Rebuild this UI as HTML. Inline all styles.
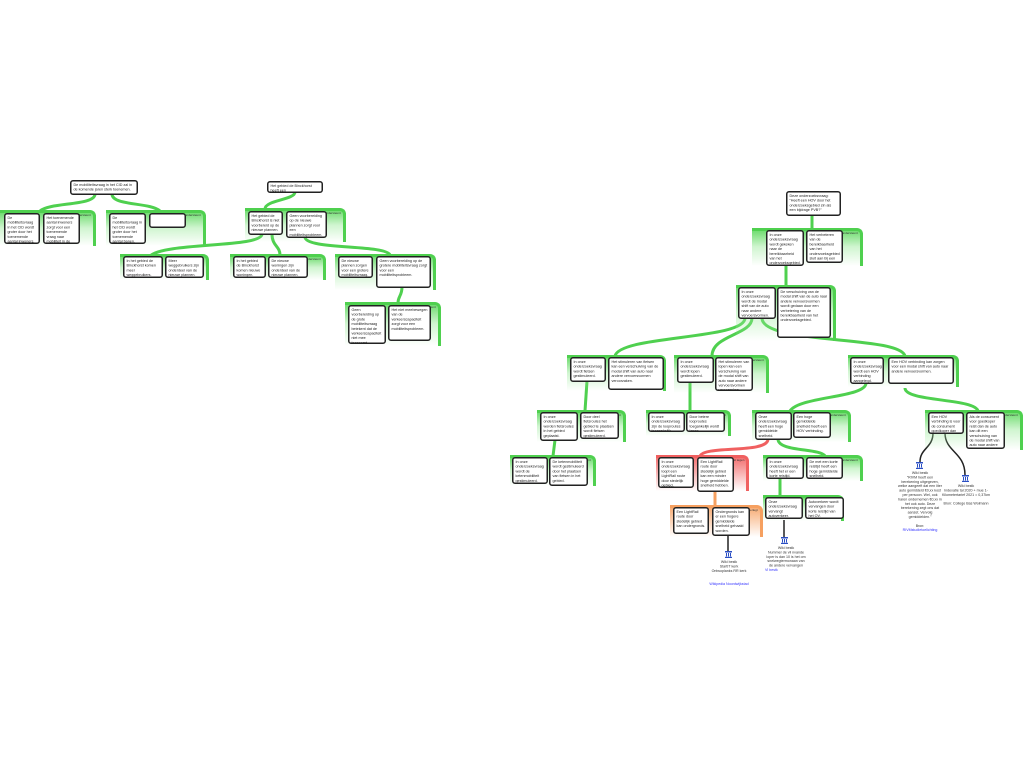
<!DOCTYPE html>
<html><head><meta charset="utf-8">
<style>
html,body{margin:0;padding:0;background:#fff;width:1024px;height:768px;overflow:hidden;position:relative;font-family:"Liberation Sans",sans-serif;}
.p{position:absolute;border-top:3px solid #4fd04f;border-right:3px solid #4fd04f;border-top-right-radius:6px;background:linear-gradient(to bottom,rgba(90,215,90,0.85) 0%,rgba(160,235,160,0.5) 45%,rgba(255,255,255,0) 100%);box-sizing:border-box;}
.p.r{border-color:#f06060;background:linear-gradient(to bottom,rgba(240,90,90,0.85),rgba(255,255,255,0) 100%);}
.p.o{border-color:#f6a060;background:linear-gradient(to bottom,rgba(246,160,96,0.85),rgba(255,255,255,0) 100%);}
.l{position:absolute;right:2px;top:1px;font-size:6px;line-height:6px;color:#333;transform:scale(.5);transform-origin:100% 0;white-space:nowrap;}
.b{position:absolute;background:#fff;border:3px solid #222;border-radius:6px;box-sizing:border-box;font-size:7.4px;line-height:9.4px;padding:2px 4px;color:#222;overflow:hidden;transform:scale(.5);transform-origin:0 0;}
.s{position:absolute;font-size:7.2px;line-height:8.8px;text-align:center;color:#333;transform:scale(.5);transform-origin:0 0;}
.s a{color:#33f;}
.ic{position:absolute;width:7px;height:7px;}
</style></head><body>
<svg width="1024" height="768" style="position:absolute;left:0;top:0" fill="none">
<g stroke="#4fd04f" stroke-width="3">
<path d="M95,194 C95,206 50,202 40,211"/>
<path d="M112,194 C112,206 150,202 160,211"/>
<path d="M295,192 C295,200 265,200 265,209"/>
<path d="M262,234 C262,248 165,242 150,256"/>
<path d="M272,234 C272,246 280,246 280,255"/>
<path d="M305,237 C305,250 385,244 390,255"/>
<path d="M402,287 C402,296 398,296 398,303"/>
<path d="M812,215 L812,229"/>
<path d="M786,265 L786,286"/>
<path d="M745,318 C745,340 620,335 615,356"/>
<path d="M752,318 C752,335 712,335 712,356"/>
<path d="M762,318 C762,345 900,335 905,356"/>
<path d="M587,381 L585,411"/>
<path d="M690,382 L690,411"/>
<path d="M866,383 C866,398 800,396 790,411"/>
<path d="M905,388 C905,402 975,398 978,411"/>
<path d="M555,440 L553,456"/>
<path d="M778,439 C778,452 820,448 825,456"/>
<path d="M780,478 L780,496"/>
</g>
<path d="M768,439 C768,454 705,445 700,456" stroke="#f06060" stroke-width="3"/>
<path d="M715,491 L715,506" stroke="#f6a060" stroke-width="3"/>
<g stroke="#222" stroke-width="1.5">
<path d="M728,535 L728,551"/>
<path d="M784,520 L784,537"/>
<path d="M933,433 C933,448 920,448 920,462"/>
<path d="M945,433 C945,452 965,452 965,475"/>
</g>
</svg>

<div class="b" style="left:70px;top:180px;width:136px;height:30px">De mobiliteitsvraag in het CID zal in de komende jaren sterk toenemen.</div>
<div class="p" style="left:0;top:210px;width:96px;height:36px"><span class="l">ondersteunt</span></div>
<div class="b" style="left:4px;top:213px;width:72px;height:62px">De mobiliteitsvraag in het CID wordt groter door het toenemende aantal inwoners.</div>
<div class="b" style="left:43px;top:213px;width:74px;height:62px">Het toenemende aantal inwoners zorgt voor een toenemende vraag naar mobiliteit in de komende jaren.</div>
<div class="p" style="left:106px;top:210px;width:100px;height:36px"><span class="l">ondersteunt</span></div>
<div class="b" style="left:109px;top:213px;width:74px;height:62px">De mobiliteitsvraag in het CID wordt groter door het toenemende aantal banen.</div>
<div class="b" style="left:149px;top:213px;width:74px;height:30px"></div>

<div class="b" style="left:267px;top:181px;width:112px;height:24px">Het gebied de Binckhorst heeft een mobiliteitsprobleem.</div>
<div class="p" style="left:245px;top:208px;width:101px;height:34px"><span class="l">ondersteunt</span></div>
<div class="b" style="left:248px;top:211px;width:70px;height:48px">Het gebied de Binckhorst is niet voorbereid op de nieuwe plannen.</div>
<div class="b" style="left:286px;top:211px;width:82px;height:54px">Geen voorbereiding op de nieuwe plannen zorgt voor een mobiliteitsprobleem.</div>
<div class="p" style="left:120px;top:254px;width:89px;height:26px"><span class="l">ondersteunt</span></div>
<div class="b" style="left:123px;top:256px;width:80px;height:44px">In het gebied de Binckhorst komen meer weggebruikers.</div>
<div class="b" style="left:165px;top:256px;width:78px;height:44px">Meer weggebruikers zijn onderdeel van de nieuwe plannen.</div>
<div class="p" style="left:230px;top:254px;width:96px;height:26px"><span class="l">ondersteunt</span></div>
<div class="b" style="left:233px;top:256px;width:66px;height:44px">In het gebied de Binckhorst komen nieuwe woningen.</div>
<div class="b" style="left:268px;top:256px;width:80px;height:44px">De nieuwe woningen zijn onderdeel van de nieuwe plannen.</div>
<div class="p" style="left:335px;top:254px;width:101px;height:36px"><span class="l">ondersteunt</span></div>
<div class="b" style="left:338px;top:256px;width:70px;height:44px">De nieuwe plannen zorgen voor een grotere mobiliteitsvraag.</div>
<div class="b" style="left:376px;top:256px;width:110px;height:64px">Geen voorbereiding op de grotere mobiliteitsvraag zorgt voor een mobiliteitsprobleem.</div>
<div class="p" style="left:345px;top:302px;width:96px;height:44px"><span class="l">ondersteunt</span></div>
<div class="b" style="left:348px;top:305px;width:76px;height:78px">Geen voorbereiding op de grote mobiliteitsvraag betekent dat de verkeerscapaciteit niet mee toeneemt.</div>
<div class="b" style="left:388px;top:305px;width:86px;height:72px">Het niet meebewegen van de verkeerscapaciteit zorgt voor een mobiliteitsprobleem.</div>

<div class="b" style="left:786px;top:191px;width:110px;height:50px">Deze onderzoeksvraag: "Heeft een HOV door het onderzoeksgebied zin als een bijdrage PVB?"</div>
<div class="p" style="left:752px;top:228px;width:111px;height:38px"><span class="l">ondersteunt</span></div>
<div class="b" style="left:766px;top:230px;width:76px;height:72px">In onze onderzoeksvraag wordt gekeken naar de bereikbaarheid van het onderzoeksgebied.</div>
<div class="b" style="left:806px;top:230px;width:74px;height:66px">Het verbeteren van de bereikbaarheid van het onderzoeksgebied sluit aan bij een PVB.</div>
<div class="p" style="left:736px;top:285px;width:100px;height:56px"><span class="l">ondersteunt</span></div>
<div class="b" style="left:738px;top:287px;width:76px;height:64px">In onze onderzoeksvraag wordt de modal shift van de auto naar andere vervoersvormen.</div>
<div class="b" style="left:777px;top:287px;width:108px;height:102px">De verschuiving van de modal shift van de auto naar andere vervoersvormen wordt gedaan door een verbetering van de bereikbaarheid van het onderzoeksgebied.</div>
<div class="p" style="left:567px;top:355px;width:99px;height:36px"><span class="l">ondersteunt</span></div>
<div class="b" style="left:570px;top:357px;width:72px;height:50px">In onze onderzoeksvraag wordt fietsen gestimuleerd.</div>
<div class="b" style="left:608px;top:357px;width:112px;height:66px">Het stimuleren van fietsen kan een verschuiving van de modal shift van auto naar andere vervoersvormen veroorzaken.</div>
<div class="p" style="left:674px;top:355px;width:95px;height:38px"><span class="l">ondersteunt</span></div>
<div class="b" style="left:677px;top:357px;width:74px;height:52px">In onze onderzoeksvraag wordt lopen gestimuleerd.</div>
<div class="b" style="left:715px;top:357px;width:76px;height:68px">Het stimuleren van lopen kan een verschuiving van de modal shift van auto naar andere vervoersvormen veroorzaken.</div>
<div class="p" style="left:848px;top:355px;width:111px;height:32px"><span class="l">ondersteunt</span></div>
<div class="b" style="left:850px;top:357px;width:68px;height:54px">In onze onderzoeksvraag wordt een HOV verbinding aangelegd.</div>
<div class="b" style="left:888px;top:357px;width:132px;height:54px">Een HOV verbinding kan zorgen voor een modal shift van auto naar andere vervoersvormen.</div>
<div class="p" style="left:537px;top:410px;width:89px;height:32px"><span class="l">ondersteunt</span></div>
<div class="b" style="left:540px;top:412px;width:76px;height:58px">In onze onderzoeksvraag worden fietsroutes in het gebied geplaatst.</div>
<div class="b" style="left:580px;top:412px;width:78px;height:54px">Door deel fietsroutes het gebied te plaatsen wordt fietsen gestimuleerd.</div>
<div class="p" style="left:646px;top:410px;width:85px;height:26px"><span class="l">ondersteunt</span></div>
<div class="b" style="left:648px;top:412px;width:74px;height:40px">In onze onderzoeksvraag zijn de looproutes toegankelijk.</div>
<div class="b" style="left:686px;top:412px;width:78px;height:40px">Door betere looproutes toegankelijk wordt lopen gestimuleerd.</div>
<div class="p" style="left:752px;top:410px;width:99px;height:32px"><span class="l">ondersteunt</span></div>
<div class="b" style="left:755px;top:412px;width:74px;height:56px">Onze onderzoeksvraag heeft een hoge gemiddelde snelheid.</div>
<div class="b" style="left:793px;top:412px;width:76px;height:52px">Een hoge gemiddelde snelheid heeft een HOV verbinding.</div>
<div class="p" style="left:925px;top:410px;width:98px;height:40px"><span class="l">ondersteunt</span></div>
<div class="b" style="left:928px;top:412px;width:72px;height:44px">Een HOV verbinding is voor de consument goedkoper dan een auto.</div>
<div class="b" style="left:966px;top:412px;width:78px;height:74px">Als de consument voor goedkoper reist dan de auto kan dit een verschuiving van de modal shift van auto naar andere vervoersvormen veroorzaken.</div>
<div class="p" style="left:510px;top:455px;width:86px;height:31px"><span class="l">ondersteunt</span></div>
<div class="b" style="left:512px;top:457px;width:72px;height:54px">In onze onderzoeksvraag wordt de ketenmobiliteit gestimuleerd.</div>
<div class="b" style="left:549px;top:457px;width:78px;height:58px">De ketenmobiliteit wordt gestimuleerd door het plaatsen van fietsen in het gebied.</div>
<div class="p r" style="left:656px;top:455px;width:93px;height:36px"><span class="l">spreekt tegen</span></div>
<div class="b" style="left:658px;top:457px;width:72px;height:62px">In onze onderzoeksvraag loopt een LightRail route door stedelijk gebied.</div>
<div class="b" style="left:697px;top:457px;width:74px;height:70px">Een LightRail route door stedelijk gebied kan een minder hoge gemiddelde snelheid hebben.</div>
<div class="p" style="left:763px;top:455px;width:100px;height:26px"><span class="l">ondersteunt</span></div>
<div class="b" style="left:766px;top:457px;width:76px;height:44px">In onze onderzoeksvraag heeft het er een korte reistijd.</div>
<div class="b" style="left:806px;top:457px;width:74px;height:44px">De met een korte reistijd heeft een hoge gemiddelde snelheid.</div>
<div class="p o" style="left:670px;top:505px;width:93px;height:32px"><span class="l">weerlegt</span></div>
<div class="b" style="left:673px;top:507px;width:72px;height:54px">Een LightRail route door stedelijk gebied kan ondergronds.</div>
<div class="b" style="left:712px;top:507px;width:76px;height:58px">Ondergronds kan er een hogere gemiddelde snelheid gehaald worden.</div>
<div class="p" style="left:763px;top:495px;width:81px;height:26px"><span class="l">ondersteunt</span></div>
<div class="b" style="left:765px;top:497px;width:76px;height:44px">Onze onderzoeksvraag vervangt autoverkeer.</div>
<div class="b" style="left:805px;top:497px;width:78px;height:44px">Autoverkeer wordt vervangen door korte reistijd van het OV.</div>

<svg class="ic" style="left:725px;top:551px" viewBox="0 0 7 7"><rect x="0" y="0" width="7" height="1.5" fill="#2b4fc4"/><rect x="1" y="2" width="1" height="3.5" fill="#2b4fc4"/><rect x="3" y="2" width="1" height="3.5" fill="#2b4fc4"/><rect x="5" y="2" width="1" height="3.5" fill="#2b4fc4"/><rect x="0" y="5.8" width="7" height="1.2" fill="#2b4fc4"/></svg>
<div class="s" style="left:705px;top:560px;width:96px">Wiki bestk<br>StartIT kerk<br>Ontwoplanks RR kerk<br><br><br><a>Wikipedia Noordwijkstad</a></div>
<svg class="ic" style="left:781px;top:537px" viewBox="0 0 7 7"><rect x="0" y="0" width="7" height="1.5" fill="#2b4fc4"/><rect x="1" y="2" width="1" height="3.5" fill="#2b4fc4"/><rect x="3" y="2" width="1" height="3.5" fill="#2b4fc4"/><rect x="5" y="2" width="1" height="3.5" fill="#2b4fc4"/><rect x="0" y="5.8" width="7" height="1.2" fill="#2b4fc4"/></svg>
<div class="s" style="left:765px;top:546px;width:84px">Wiki bestk<br>Nummer de vil nvande loper is dan 10 is het om snelwegtermonaan van de andere vervangen<br><a style="display:block;text-align:left">Vl bestk</a></div>
<svg class="ic" style="left:916px;top:462px" viewBox="0 0 7 7"><rect x="0" y="0" width="7" height="1.5" fill="#2b4fc4"/><rect x="1" y="2" width="1" height="3.5" fill="#2b4fc4"/><rect x="3" y="2" width="1" height="3.5" fill="#2b4fc4"/><rect x="5" y="2" width="1" height="3.5" fill="#2b4fc4"/><rect x="0" y="5.8" width="7" height="1.2" fill="#2b4fc4"/></svg>
<div class="s" style="left:898px;top:471px;width:88px">Wiki bestk<br>"RIVM heeft een berekening uitgegeven, welke aangeeft dat een liter auto gemiddeld €0,xx kost per persoon. Wel, ook haren ondernemen €0,xx in het ook auto. Deze berekening zegt ons dat aanzet. Vervolg gemiddelden."<br><br>Bron:<br><a>RIVMstudietoelichting</a></div>
<svg class="ic" style="left:962px;top:475px" viewBox="0 0 7 7"><rect x="0" y="0" width="7" height="1.5" fill="#2b4fc4"/><rect x="1" y="2" width="1" height="3.5" fill="#2b4fc4"/><rect x="3" y="2" width="1" height="3.5" fill="#2b4fc4"/><rect x="5" y="2" width="1" height="3.5" fill="#2b4fc4"/><rect x="0" y="5.8" width="7" height="1.2" fill="#2b4fc4"/></svg>
<div class="s" style="left:940px;top:484px;width:104px">Wiki bestk<br>Indexatie tal 2020 + mue 1-Kilometertarief 2021 = 0,37km<br><br>Bron: College Bas Wolmann</div>
</body></html>
